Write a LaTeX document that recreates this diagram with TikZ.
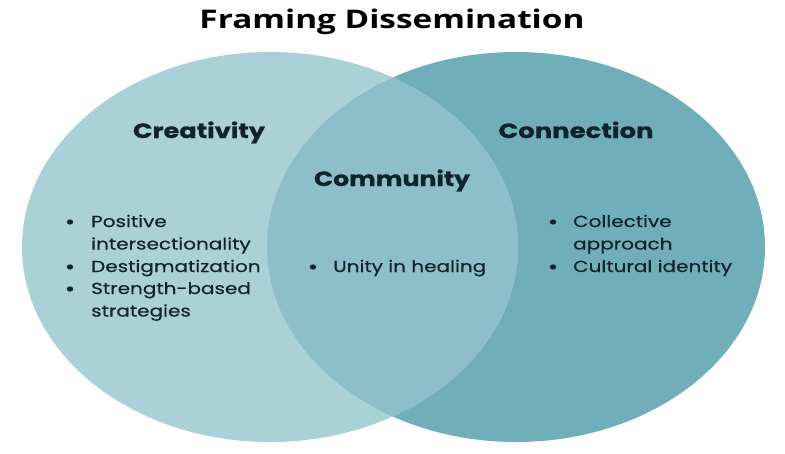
\documentclass[tikz,border=0pt]{standalone}
\usepackage{fontspec}
\usepackage{graphicx}
\usetikzlibrary{shapes.geometric}
\setmainfont{Poppins}[UprightFeatures={FakeBold=0.3}]
\newfontfamily\titlef{Open Sans}
\newfontfamily\headf{Poppins}[BoldFeatures={FakeBold=0.7}]
\definecolor{leftc}{HTML}{AAD0D8}
\definecolor{rightc}{HTML}{70AFBA}
\definecolor{midc}{HTML}{8DBFCA}
\definecolor{txt}{HTML}{10222A}
\newcommand\bodytxt[1]{\scalebox{1.25}[1]{#1}}
\begin{document}
\begin{tikzpicture}[x=1pt,y=-1pt,
  head/.style={font=\headf\bfseries, text=txt, inner sep=0pt, anchor=base},
  item/.style={font=\fontsize{16}{20}\selectfont, text=txt, anchor=base west, inner sep=0pt},
  dot/.style={fill=txt, ellipse, inner sep=0pt, minimum width=6.5pt, minimum height=5.2pt}]
\useasboundingbox (0,0) rectangle (785,453);
\fill[white] (0,0) rectangle (785,453);
% ellipses
\fill[rightc] (516,247) ellipse [x radius=249, y radius=195];
\fill[leftc] (270,247) ellipse [x radius=248, y radius=195];
\begin{scope}
  \clip (516,247) ellipse [x radius=249, y radius=195];
  \fill[midc] (270,247) ellipse [x radius=248, y radius=195];
\end{scope}
% title
\node[font=\titlef\bfseries, text=black, inner sep=0pt, anchor=base] (title) at (392,28.3) {\resizebox{385pt}{19.5pt}{Framing Dissemination}};
% headings
\node[head] (cre) at (199,138) {\resizebox{132pt}{16.5pt}{Creativity}};
\node[head] (com) at (392,186) {\resizebox{156pt}{16.5pt}{Community}};
\node[head] (con) at (576,138) {\resizebox{155pt}{16.5pt}{Connection}};
% left list
\node[dot] (b1) at (70,222) {};
\node[item] (l1) at (91,227) {\bodytxt{Positive}};
\node[item] (l2) at (91,249.5) {\bodytxt{intersectionality}};
\node[dot] (b2) at (70,267) {};
\node[item] (l3) at (91,272) {\bodytxt{Destigmatization}};
\node[dot] (b3) at (70,289) {};
\node[item] (l4) at (91,294) {\bodytxt{Strength-based}};
\node[item] (l5) at (91,316.5) {\bodytxt{strategies}};
% middle list
\node[dot] (b4) at (313,267) {};
\node[item] (m1) at (333,272) {\bodytxt{Unity in healing}};
% right list
\node[dot] (b5) at (553,222) {};
\node[item] (r1) at (573,227) {\bodytxt{Collective}};
\node[item] (r2) at (573,249.5) {\bodytxt{approach}};
\node[dot] (b6) at (553,267) {};
\node[item] (r3) at (573,272) {\bodytxt{Cultural identity}};
\end{tikzpicture}
\end{document}
